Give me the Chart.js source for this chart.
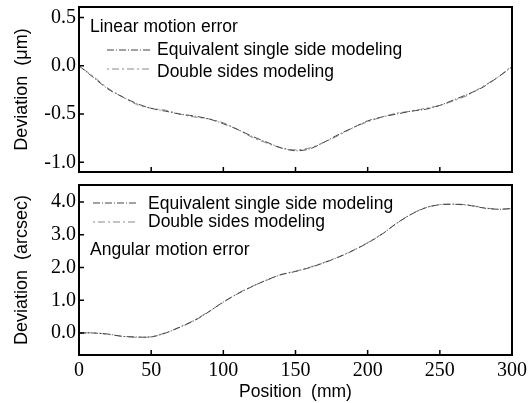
<!DOCTYPE html>
<html>
<head>
<meta charset="utf-8">
<script src="https://cdn.jsdelivr.net/npm/chart.js@4.4.1/dist/chart.umd.min.js"></script>
<style>
body { margin: 0; background: #fff; }
.box { position: absolute; left: 0; width: 531px; }
</style>
</head>
<body>
<div class="box" style="top:0;height:180px"><canvas id="c1"></canvas></div>
<div class="box" style="top:180px;height:223px"><canvas id="c2"></canvas></div>
<script>
// positions along the guide (mm)
var positions = [0,10,20,30,40,50,60,70,80,90,100,110,120,130,140,150,160,170,180,190,200,210,220,230,240,250,260,270,280,290,300];

// linear motion error (um)
var linearSingle = [0.00,-0.12,-0.24,-0.32,-0.39,-0.44,-0.47,-0.50,-0.52,-0.55,-0.60,-0.66,-0.73,-0.79,-0.85,-0.88,-0.86,-0.79,-0.71,-0.64,-0.57,-0.53,-0.50,-0.47,-0.45,-0.41,-0.35,-0.29,-0.22,-0.12,-0.01];
var linearDouble = [0.00,-0.11,-0.23,-0.32,-0.40,-0.44,-0.46,-0.50,-0.53,-0.55,-0.59,-0.66,-0.74,-0.80,-0.85,-0.87,-0.85,-0.79,-0.72,-0.64,-0.58,-0.53,-0.49,-0.47,-0.44,-0.41,-0.36,-0.30,-0.21,-0.12,0.00];

// angular motion error (arcsec)
var angularSingle = [0.00,0.00,-0.03,-0.10,-0.12,-0.12,0.00,0.18,0.38,0.65,0.95,1.20,1.42,1.62,1.78,1.88,2.00,2.15,2.32,2.52,2.75,3.02,3.35,3.62,3.82,3.92,3.93,3.90,3.82,3.78,3.80];
var angularDouble = [0.00,0.01,-0.04,-0.10,-0.13,-0.11,0.01,0.19,0.40,0.66,0.94,1.21,1.43,1.61,1.79,1.89,2.01,2.16,2.33,2.53,2.76,3.03,3.34,3.63,3.83,3.92,3.94,3.91,3.83,3.78,3.80];

var seriesNames = ['Equivalent single side modeling', 'Double sides modeling'];
var linearTicks = [-1.0, -0.5, 0.0, 0.5];
var angularTicks = [0.0, 1.0, 2.0, 3.0, 4.0];
var xTicks = [0, 50, 100, 150, 200, 250, 300];

var SERIF = '"Liberation Serif", "DejaVu Serif", serif';
var SANS = '"Liberation Sans", Arial, sans-serif';

function pts(ys) {
  return positions.map(function (x, i) { return {x: x, y: ys[i]}; });
}

// frame, inward ticks, legend and label text
var decor = {
  id: 'decor',
  afterDatasetsDraw: function (chart, args, opts) {
    var ctx = chart.ctx, a = chart.chartArea;
    var xs = chart.scales.x, ys = chart.scales.y;
    ctx.save();
    ctx.strokeStyle = '#000';
    ctx.lineWidth = 2;
    ctx.strokeRect(a.left, a.top, a.right - a.left, a.bottom - a.top);
    ctx.lineWidth = 1.5;
    ctx.beginPath();
    xTicks.forEach(function (v) {
      if (v <= 0 || v >= 300) return;
      var px = xs.getPixelForValue(v);
      ctx.moveTo(px, a.bottom);
      ctx.lineTo(px, a.bottom - 5);
    });
    ys.ticks.forEach(function (t) {
      var py = ys.getPixelForValue(t.value);
      ctx.moveTo(a.left, py);
      ctx.lineTo(a.left + 5, py);
    });
    ctx.stroke();

    // legend
    ctx.font = '17.5px ' + SANS;
    ctx.fillStyle = '#000';
    ctx.textBaseline = 'middle';
    chart.data.datasets.forEach(function (ds, i) {
      var y = a.top + opts.legendY[i];
      ctx.strokeStyle = ds.borderColor;
      ctx.lineWidth = 1;
      ctx.setLineDash(ds.borderDash);
      ctx.beginPath();
      ctx.moveTo(a.left + opts.legendX, y);
      ctx.lineTo(a.left + opts.legendX + 45, y);
      ctx.stroke();
      ctx.setLineDash([]);
      ctx.fillText(ds.label, a.left + opts.legendX + opts.textGap, y + opts.textShift[i]);
    });
    ctx.fillText(opts.note, a.left + opts.noteX, a.top + opts.noteY);
    ctx.restore();
  }
};

function makeChart(id, ySingle, yDouble, yMin, yMax, yTicks, yTitle, bottomPanel, decorOpts) {
  return new Chart(document.getElementById(id), {
    type: 'line',
    data: {
      datasets: [
        {label: seriesNames[0], data: pts(ySingle), borderColor: '#444', borderWidth: 1, borderDash: [7, 2, 1, 2], pointRadius: 0, tension: 0.3},
        {label: seriesNames[1], data: pts(yDouble), borderColor: '#888', borderWidth: 1, borderDash: [2, 3, 7, 3], pointRadius: 0, tension: 0.3}
      ]
    },
    options: {
      responsive: true,
      maintainAspectRatio: false,
      animation: false,
      layout: {padding: {top: bottomPanel ? 5 : 7, right: 19, left: 0, bottom: bottomPanel ? 0 : 8}},
      plugins: {legend: {display: false}, tooltip: {enabled: false}, decor: decorOpts},
      scales: {
        x: {
          type: 'linear', min: 0, max: 300,
          afterBuildTicks: function (s) { s.ticks = xTicks.map(function (v) { return {value: v}; }); },
          afterFit: function (s) { s.height = bottomPanel ? 48 : 0; s.paddingLeft = 0; s.paddingRight = 0; },
          grid: {display: false, drawTicks: false},
          border: {display: false},
          ticks: {display: bottomPanel, color: '#000', padding: 4, maxRotation: 0, font: {family: SERIF, size: 20}},
          title: {display: bottomPanel, text: 'Position  (mm)', color: '#000', padding: {top: 0, bottom: 0}, font: {family: SANS, size: 17.5}}
        },
        y: {
          min: yMin, max: yMax,
          afterBuildTicks: function (s) { s.ticks = yTicks.map(function (v) { return {value: v}; }); },
          afterFit: function (s) { s.width = 79; s.paddingTop = 0; s.paddingBottom = 0; },
          grid: {display: false, drawTicks: false},
          border: {display: false},
          ticks: {color: '#000', padding: 3, font: {family: SERIF, size: 20}, callback: function (v) { return Number(v).toFixed(1); }},
          title: {display: true, text: yTitle, color: '#000', padding: {top: 11, bottom: 0}, font: {family: SANS, size: 18}}
        }
      }
    },
    plugins: [decor]
  });
}

makeChart('c1', linearSingle, linearDouble, -1.1, 0.61, linearTicks, 'Deviation  (\u03bcm)', false,
  {legendX: 28, legendY: [43, 62], textGap: 50, textShift: [0, 3], note: 'Linear motion error', noteX: 11, noteY: 20});
makeChart('c2', angularSingle, angularDouble, -0.67, 4.52, angularTicks, 'Deviation  (arcsec)', true,
  {legendX: 14, legendY: [18, 37], textGap: 55, textShift: [1, 0], note: 'Angular motion error', noteX: 11, noteY: 65});
</script>
</body>
</html>
